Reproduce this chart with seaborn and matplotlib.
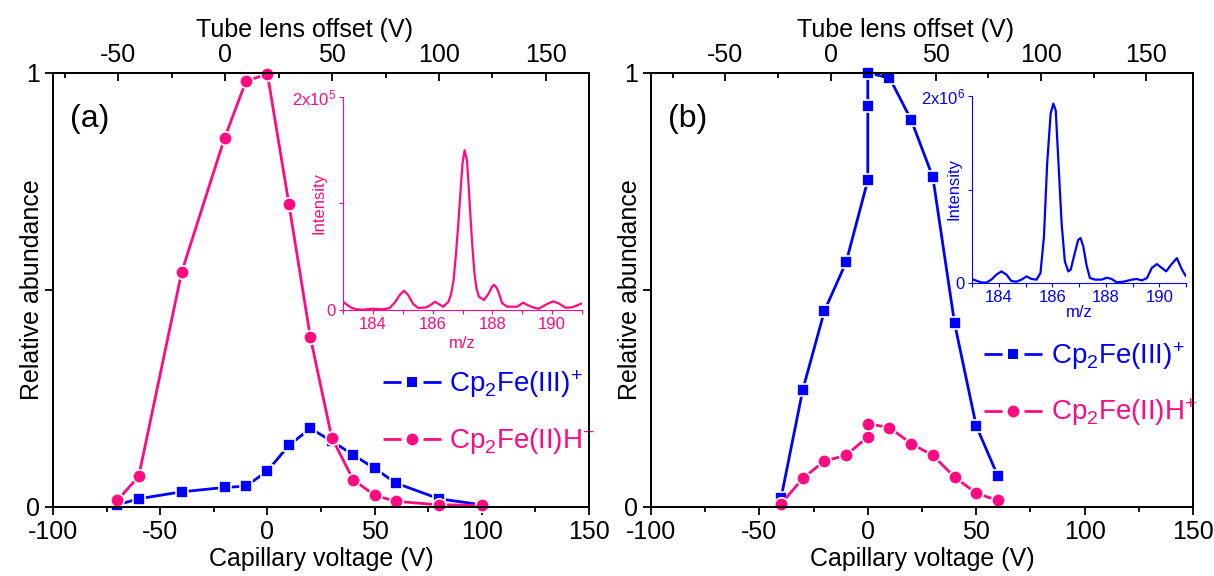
import numpy as np
import pandas as pd
import matplotlib
matplotlib.use('Agg')
import matplotlib.pyplot as plt
import seaborn as sns
from matplotlib.ticker import MultipleLocator, FixedLocator
from matplotlib.lines import Line2D
from matplotlib.legend_handler import HandlerTuple

sns.set_style('ticks')
plt.rcParams['font.family'] = ['Liberation Sans', 'DejaVu Sans']
plt.rcParams['mathtext.fontset'] = 'custom'
plt.rcParams['mathtext.rm'] = 'Liberation Sans'
plt.rcParams['mathtext.it'] = 'Liberation Sans:italic'
plt.rcParams['mathtext.bf'] = 'Liberation Sans:bold'
plt.rcParams['axes.unicode_minus'] = False
for k in ['text.color', 'axes.labelcolor', 'xtick.color', 'ytick.color', 'axes.edgecolor']:
    plt.rcParams[k] = 'black'

BLUE = '#0000FF'
PINK = '#FF0A80'

# panel (a): capillary voltage scan
cap_a = [-70, -60, -40, -20, -10, 0, 10, 20, 30, 40, 50, 60, 80, 100]
fe3_a = [0.005, 0.019, 0.035, 0.045, 0.048, 0.083, 0.142, 0.181, 0.152, 0.120, 0.089, 0.055, 0.019, 0.005]
feh_a = [0.015, 0.071, 0.541, 0.850, 0.981, 0.998, 0.699, 0.392, 0.160, 0.063, 0.027, 0.013, 0.005, 0.004]

# panel (b)
cap_b_fe3 = [-40, -30, -20, -10, 0, 0, 0, 10, 20, 30, 40, 50, 60]
fe3_b = [0.021, 0.270, 0.452, 0.564, 0.753, 0.923, 1.0, 0.989, 0.892, 0.760, 0.424, 0.187, 0.071]
cap_b_feh = [-40, -30, -20, -10, 0, 0, 10, 20, 30, 40, 50, 60]
feh_b = [0.007, 0.066, 0.106, 0.119, 0.162, 0.192, 0.183, 0.146, 0.119, 0.069, 0.032, 0.015]

# inset spectra
mz_a = [183.00, 183.10, 183.28, 183.45, 183.67, 184.00, 184.33, 184.56, 184.73, 184.90,
        185.04, 185.18, 185.35, 185.52, 185.80, 185.95, 186.08, 186.20, 186.36, 186.53,
        186.62, 186.70, 186.78, 186.86, 186.93, 187.00, 187.07, 187.15, 187.21, 187.26,
        187.33, 187.40, 187.47, 187.55, 187.72, 187.88, 187.97, 188.05, 188.13, 188.20,
        188.33, 188.50, 188.83, 189.03, 189.17, 189.38, 189.55, 189.83, 190.03, 190.22,
        190.44, 190.67, 191.00]
int_a = [7800, 5600, 2200, 600, 300, 1200, 600, 1900, 6900, 14100,
         18100, 14100, 5600, 1900, 2500, 5000, 7800, 5600, 3100, 7800,
         15000, 28100, 52000, 81250, 110000, 137500, 150000, 140600, 115000, 90600,
         60000, 34400, 20000, 12500, 9400, 15600, 21000, 23750, 21500, 17200,
         6250, 3100, 3100, 6900, 4700, 2200, 1250, 5600, 8100, 6250,
         2200, 2500, 6250]

mz_b = [183.00, 183.16, 183.35, 183.54, 183.72, 183.91, 184.10, 184.29, 184.47, 184.66,
        184.85, 185.04, 185.22, 185.41, 185.56, 185.69, 185.81, 185.94, 186.04, 186.13,
        186.22, 186.35, 186.47, 186.60, 186.69, 186.81, 186.97, 187.06, 187.16, 187.29,
        187.41, 187.60, 187.85, 188.04, 188.22, 188.41, 188.66, 188.98, 189.16, 189.35,
        189.54, 189.72, 189.91, 190.10, 190.26, 190.44, 190.66, 190.85, 191.00]
int_b = [43000, 25000, 7000, 4000, 36000, 89000, 124000, 89000, 21000, 14000,
         36000, 71000, 43000, 36000, 107000, 497000, 1279000, 1812000, 1918000, 1847000,
         1350000, 639000, 231000, 124000, 142000, 284000, 462000, 480000, 391000, 178000,
         53000, 36000, 36000, 57000, 43000, 7000, 14000, 36000, 43000, 28000,
         53000, 160000, 202500, 160000, 124000, 195000, 266000, 142000, 71000]

LABEL_FE3 = r'$\mathrm{Cp_2Fe(III)^{\!+}}$'
LABEL_FEH = r'$\mathrm{Cp_2Fe(II)H^{\!+}}$'

fig = plt.figure(figsize=(12.14, 5.76), dpi=100)
W, H = 1214, 576


def fig_rect(l, r, b, t):
    return [l / W, 1 - b / H, (r - l) / W, (b - t) / H]


def legend_handle(color, marker, ms):
    # Origin style: line segments with a gap around the symbol
    line = Line2D([], [], color=color, lw=2, linestyle=(0, (6.5, 7.9)))
    mark = Line2D([], [], color=color, marker=marker, ms=ms, linestyle='none',
                  markeredgewidth=0)
    return (line, mark)


def main_panel(rect, xb, yb, xp, yp, tag, top_lim, leg_anchor):
    ax = fig.add_axes(rect)
    sns.lineplot(x=xb, y=yb, ax=ax, sort=False, estimator=None, color=BLUE,
                 linewidth=2, marker='s', markersize=8.2, markeredgecolor='white',
                 markeredgewidth=1.2, clip_on=False, legend=False)
    sns.lineplot(x=xp, y=yp, ax=ax, sort=False, estimator=None, color=PINK,
                 linewidth=2, marker='o', markersize=9.7, markeredgecolor='white',
                 markeredgewidth=1.2, clip_on=False, legend=False)
    ax.set_xlim(-100, 150)
    ax.set_ylim(0, 1)
    ax.xaxis.set_major_locator(MultipleLocator(50))
    ax.xaxis.set_minor_locator(MultipleLocator(25))
    ax.set_yticks([0, 0.5, 1])
    ax.set_yticklabels(['0', '', '1'])
    ax.tick_params(axis='both', which='major', labelsize=18, length=6, width=1.3,
                   direction='out', color='black')
    ax.tick_params(axis='x', which='minor', length=3.5, width=1.3, direction='out')
    for sp in ax.spines.values():
        sp.set_visible(True)
        sp.set_linewidth(1.4)
        sp.set_color('black')
    ax.set_xlabel('Capillary voltage (V)', fontsize=18, labelpad=2)
    ax.set_ylabel('Relative abundance', fontsize=18)
    ax.yaxis.set_label_coords(-0.016, 0.5)
    ax.text(0.032, 0.895, tag, transform=ax.transAxes, fontsize=23,
            ha='left', va='center')
    ax.legend([legend_handle(BLUE, 's', 7), legend_handle(PINK, 'o', 8.5)],
              [LABEL_FE3, LABEL_FEH],
              handler_map={tuple: HandlerTuple(ndivide=1)},
              loc='upper left', bbox_to_anchor=leg_anchor, frameon=False,
              fontsize=20, handlelength=2.09, handletextpad=0.3,
              labelspacing=0.9, borderpad=0, borderaxespad=0,
              labelcolor=[BLUE, PINK], numpoints=1)

    top = ax.twiny()
    top.set_xlim(*top_lim)
    top.xaxis.set_major_locator(MultipleLocator(50))
    top.xaxis.set_minor_locator(MultipleLocator(25))
    top.tick_params(axis='x', which='major', labelsize=18, length=6, width=1.3,
                    direction='in', pad=4)
    top.tick_params(axis='x', which='minor', length=3.5, width=1.3, direction='in')
    for sp in top.spines.values():
        sp.set_linewidth(1.4)
    top.set_xlabel('Tube lens offset (V)', fontsize=18)
    top.xaxis.set_label_coords(0.47, 1.084)
    return ax


def inset(rect, mz, inten, color, top_lab, ymax, xlab):
    ax = fig.add_axes(rect)
    ax.set_facecolor('none')
    sns.lineplot(x=mz, y=inten, ax=ax, sort=False, estimator=None, color=color,
                 linewidth=1.6, legend=False)
    ax.set_xlim(183, 191)
    ax.set_ylim(0, ymax)
    ax.xaxis.set_major_locator(FixedLocator([184, 186, 188, 190]))
    ax.xaxis.set_minor_locator(FixedLocator([183, 185, 187, 189, 191]))
    ax.set_yticks([0, ymax / 2, ymax])
    ax.set_yticklabels(['0', '', top_lab])
    ax.tick_params(axis='both', which='both', labelsize=12, length=3, width=0.8,
                   color=color, labelcolor=color, direction='out', pad=2)
    for s in ['top', 'right']:
        ax.spines[s].set_visible(False)
    for s in ['left', 'bottom']:
        ax.spines[s].set_color(color)
        ax.spines[s].set_linewidth(0.8)
    ax.set_xlabel('m/z', fontsize=12, color=color)
    ax.set_ylabel('Intensity', fontsize=12, color=color)
    ax.xaxis.set_label_coords(0.5, -0.12)
    ax.yaxis.set_label_coords(xlab, 0.5)
    return ax


main_panel(fig_rect(53, 589, 507, 73), cap_a, fe3_a, cap_a, feh_a, '(a)',
           (-80.4, 170.1), (0.615, 0.32))
main_panel(fig_rect(651, 1193, 507, 73), cap_b_fe3, fe3_b, cap_b_feh, feh_b, '(b)',
           (-85.3, 172.2), (0.615, 0.385))

inset(fig_rect(343, 582, 310, 97), mz_a, int_a, PINK, r'2x10$^5$', 2e5, -0.069)
inset(fig_rect(972, 1186, 283, 96), mz_b, int_b, BLUE, r'2x10$^6$', 2e6, -0.047)

fig.savefig('out.png', dpi=100)
